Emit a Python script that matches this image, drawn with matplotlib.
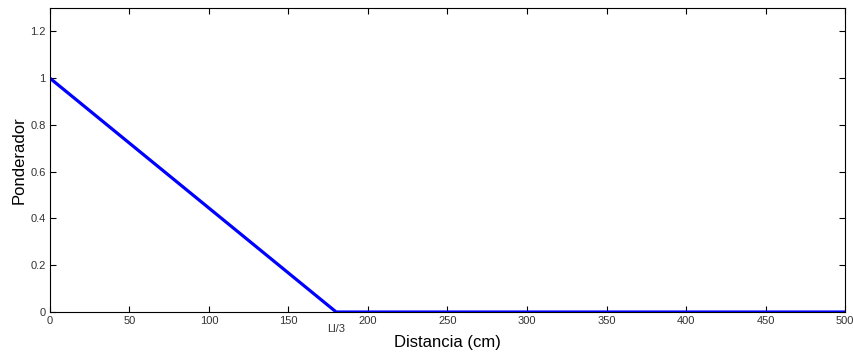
import matplotlib
matplotlib.use("Agg")
import matplotlib.pyplot as plt
import matplotlib.transforms as mtransforms

plt.rcParams['font.family'] = ['Liberation Sans', 'DejaVu Sans']

# data
distancia = [0, 180, 500]
ponderador = [1.0, 0.0, 0.0]
xticks = [0, 50, 100, 150, 200, 250, 300, 350, 400, 450, 500]
yticks = [0, 0.2, 0.4, 0.6, 0.8, 1, 1.2]
ytick_labels = ['0', '0.2', '0.4', '0.6', '0.8', '1', '1.2']
ll3_pos = 180

fig = plt.figure(figsize=(8.54, 3.52), dpi=100)
ax = fig.add_axes([0.0585, 0.1136, 0.931, 0.8634])

ax.plot(distancia, ponderador, color='#0000ff', linewidth=2.3, solid_capstyle='butt')

ax.set_xlim(0, 500)
ax.set_ylim(0, 1.3)
ax.set_xticks(xticks)
ax.set_xticklabels([str(t) for t in xticks])
ax.set_yticks(yticks)
ax.set_yticklabels(ytick_labels)
ax.tick_params(direction='in', length=4, width=0.8, top=True, right=True,
               labelsize=8, labelcolor='#333333', pad=3)
for s in ax.spines.values():
    s.set_linewidth(0.8)

trans = mtransforms.blended_transform_factory(ax.transData, ax.transAxes)
ax.text(ll3_pos, -0.04, 'Ll/3', transform=trans, ha='center', va='top',
        fontsize=8, color='#333333')

ax.set_xlabel('Distancia (cm)', fontsize=12, labelpad=6)
ax.set_ylabel('Ponderador', fontsize=12, labelpad=3)

fig.savefig('out.png', dpi=100)
